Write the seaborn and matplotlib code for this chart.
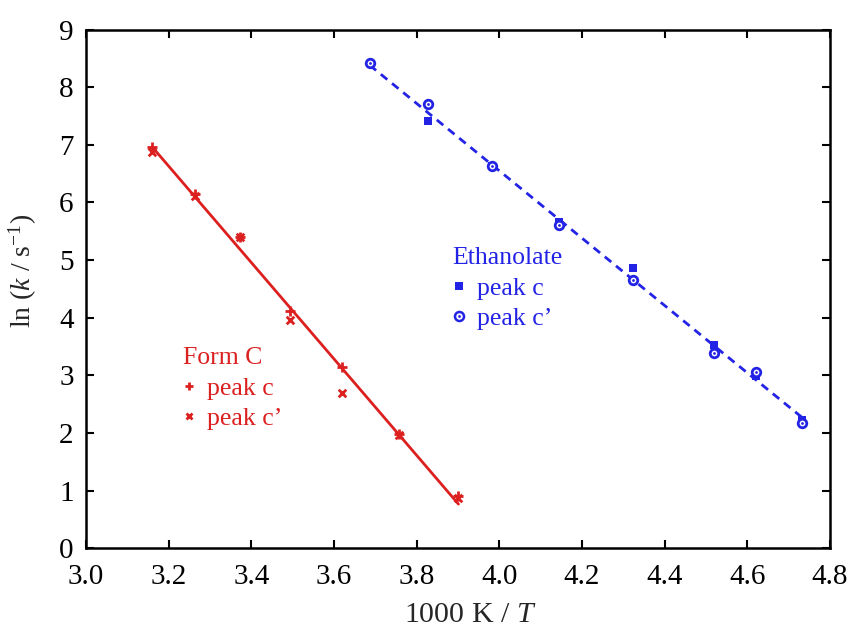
import numpy as np
import pandas as pd
import seaborn as sns
from matplotlib import pyplot as plt
from matplotlib.lines import Line2D

# data: x = 1000 K / T, y = ln(k / s^-1)
form_x = [3.160, 3.264, 3.373, 3.494, 3.619, 3.756, 3.901]
form_peak_c = [6.96, 6.14, 5.40, 4.12, 3.15, 1.98, 0.90]
form_peak_cp = [6.88, 6.12, 5.40, 3.96, 2.70, 1.96, 0.87]

eth_x_c = [3.827, 3.982, 4.144, 4.324, 4.519, 4.622, 4.733]
eth_peak_c = [7.41, 6.63, 5.66, 4.86, 3.52, 2.99, 2.22]
eth_x_cp = [3.686, 3.827, 3.982, 4.144, 4.324, 4.519, 4.622, 4.733]
eth_peak_cp = [8.42, 7.71, 6.63, 5.60, 4.66, 3.38, 3.05, 2.18]

x_ticks = [3.0, 3.2, 3.4, 3.6, 3.8, 4.0, 4.2, 4.4, 4.6, 4.8]
y_ticks = [0, 1, 2, 3, 4, 5, 6, 7, 8, 9]

RED = '#dc2020'
BLUE = '#2323e6'

sns.set_style('ticks')
plt.rcParams['font.family'] = ['Liberation Serif', 'DejaVu Serif']
plt.rcParams['mathtext.fontset'] = 'custom'
plt.rcParams['mathtext.rm'] = 'Liberation Serif'
plt.rcParams['mathtext.it'] = 'Liberation Serif:italic'

form_df = pd.DataFrame({'x': form_x * 2, 'y': form_peak_c + form_peak_cp})
eth_df = pd.DataFrame({'x': eth_x_c + eth_x_cp, 'y': eth_peak_c + eth_peak_cp})

fig = plt.figure(figsize=(8.53, 6.28), dpi=100)
ax = fig.add_axes([0.101, 0.127, 0.872, 0.826])

# fitted lines
sns.regplot(data=form_df, x='x', y='y', scatter=False, ci=None, truncate=True,
            ax=ax, line_kws={'color': RED, 'lw': 2})
sns.regplot(data=eth_df, x='x', y='y', scatter=False, ci=None, truncate=True,
            ax=ax, line_kws={'color': BLUE, 'lw': 2, 'dashes': (3, 2.2)})

# Form C points
sns.scatterplot(x=form_x, y=form_peak_c, ax=ax, marker='+', s=45,
                color=RED, linewidth=2, zorder=3)
sns.scatterplot(x=form_x, y=form_peak_cp, ax=ax, marker='x', s=30,
                color=RED, linewidth=2, zorder=3)

# Ethanolate points
sns.scatterplot(x=eth_x_c, y=eth_peak_c, ax=ax, marker='s', s=40,
                color=BLUE, linewidth=0, zorder=3)
sns.scatterplot(x=eth_x_cp, y=eth_peak_cp, ax=ax, marker='o', s=38,
                facecolor='white', edgecolor=BLUE, linewidth=2, zorder=4)
sns.scatterplot(x=eth_x_cp, y=eth_peak_cp, ax=ax, marker='o', s=4,
                color=BLUE, linewidth=0, zorder=5)

ax.set_xlim(3.0, 4.8)
ax.set_ylim(0, 9)
ax.set_xticks(x_ticks)
ax.set_yticks(y_ticks)
ax.set_xticklabels([f'{v:.1f}' for v in x_ticks])
ax.tick_params(direction='in', length=6, width=1.5, labelsize=21,
               top=True, right=True, color='black', labelcolor='black')
ax.tick_params(axis='x', pad=11)
ax.tick_params(axis='y', pad=9)
for sp in ax.spines.values():
    sp.set_linewidth(1.8)
    sp.set_color('black')

ax.set_xlabel('1000 K / $T$', fontsize=21.5)
ax.set_ylabel('ln ($k$ / s$^{\u2212 1}$)', fontsize=20)
ax.xaxis.set_label_coords(0.516, -0.103)
ax.yaxis.set_label_coords(-0.063, 0.534)

# legends
form_handles = [
    Line2D([], [], ls='none', marker='+', ms=6, mew=2, color=RED),
    Line2D([], [], ls='none', marker='x', ms=5, mew=2, color=RED),
]
leg1 = ax.legend(form_handles, ['peak c', 'peak c\u2019'], title='Form C',
                 loc='upper left', bbox_to_anchor=(0.13, 0.387),
                 frameon=False, fontsize=18.5, title_fontsize=18.5,
                 handlelength=0.5, handletextpad=0.45, labelspacing=0.28,
                 borderpad=0, borderaxespad=0, alignment='left',
                 labelcolor=RED)
leg1.get_title().set_color(RED)
ax.add_artist(leg1)

eth_handles = [
    Line2D([], [], ls='none', marker='s', ms=5.5, mew=0, color=BLUE),
    (Line2D([], [], ls='none', marker='o', ms=6.5, mew=1.8, mfc='white', mec=BLUE),
     Line2D([], [], ls='none', marker='o', ms=2, mew=0, color=BLUE)),
]
leg2 = ax.legend(eth_handles, ['peak c', 'peak c\u2019'], title='Ethanolate',
                 loc='upper left', bbox_to_anchor=(0.492, 0.58),
                 frameon=False, fontsize=18.5, title_fontsize=18.5,
                 handlelength=0.5, handletextpad=0.45, labelspacing=0.28,
                 borderpad=0, borderaxespad=0, alignment='left',
                 labelcolor=BLUE)
leg2.get_title().set_color(BLUE)

fig.savefig('out.png', dpi=100)
